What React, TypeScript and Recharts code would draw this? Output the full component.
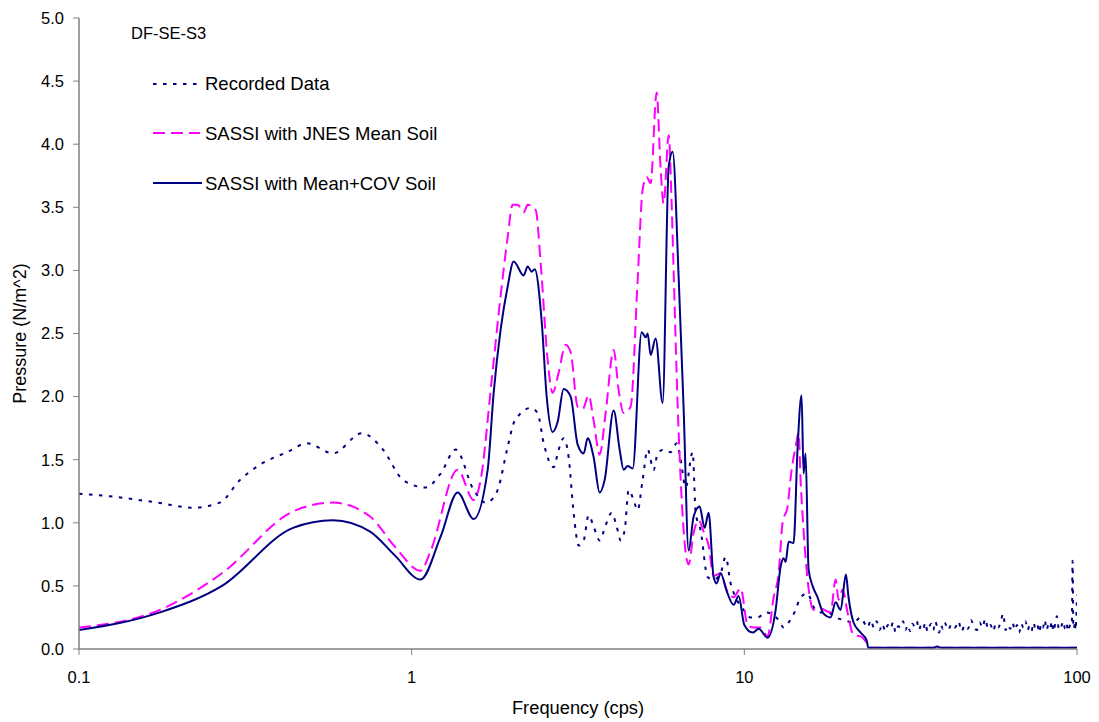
import React from 'react';
import { LineChart, Line, XAxis, YAxis } from 'recharts';

// frequency (cps), pressure (N/m^2) pairs
const recorded: [number, number][] = [
  [0.1, 1.23], [0.124, 1.21], [0.172, 1.16], [0.22, 1.12], [0.265, 1.16], [0.305, 1.34],
  [0.35, 1.46], [0.422, 1.56], [0.485, 1.63], [0.58, 1.55], [0.709, 1.71], [0.82, 1.58],
  [0.942, 1.34], [1.102, 1.28], [1.222, 1.39], [1.356, 1.58], [1.536, 1.26], [1.669, 1.16],
  [1.764, 1.2], [1.813, 1.26], [1.943, 1.6], [2.026, 1.79], [2.097, 1.85], [2.279, 1.91],
  [2.391, 1.87], [2.494, 1.63], [2.672, 1.44], [2.766, 1.58], [2.863, 1.67], [2.964, 1.52],
  [3.068, 1.08], [3.177, 0.82], [3.289, 0.86], [3.404, 1.06], [3.524, 0.97], [3.674, 0.86],
  [3.829, 0.98], [3.991, 1.08], [4.133, 0.97], [4.249, 0.86], [4.368, 0.94], [4.49, 1.26],
  [4.649, 1.18], [4.778, 1.1], [4.946, 1.34], [5.121, 1.58], [5.338, 1.42], [5.488, 1.55],
  [5.721, 1.58], [6.004, 1.56], [6.259, 1.63], [6.435, 1.5], [6.662, 1.28], [6.993, 1.56],
  [7.14, 1.08], [7.389, 0.94], [7.756, 0.57], [8.084, 0.55], [8.485, 0.6], [8.786, 0.73],
  [9.095, 0.52], [9.415, 0.41], [9.952, 0.31], [10.44, 0.25], [10.96, 0.25], [11.58, 0.29],
  [12.68, 0.23], [13.13, 0.17], [13.59, 0.21], [14.26, 0.31], [14.76, 0.41], [15.49, 0.44],
  [16.16, 0.33], [16.96, 0.29], [17.8, 0.29], [18.81, 0.25], [19.89, 0.23], [21.3, 0.21],
  [22.37, 0.25], [23.48, 0.17], [24.0, 0.23],
  [24.5, 0.17], [25, 0.22], [25.5, 0.15], [26, 0.2], [26.5, 0.14], [27, 0.19], [27.5, 0.16],
  [28, 0.21], [28.5, 0.13], [29, 0.18], [29.5, 0.17], [30, 0.22], [30.5, 0.15], [31, 0.19],
  [31.5, 0.14], [32, 0.2], [32.5, 0.18], [33, 0.22], [33.5, 0.15], [34, 0.19], [34.5, 0.16],
  [35, 0.21], [35.5, 0.14], [36, 0.18], [36.5, 0.2], [37, 0.15], [37.5, 0.22], [38, 0.17],
  [38.5, 0.13], [39, 0.19], [39.5, 0.16], [40, 0.21], [41, 0.15], [42, 0.2], [43, 0.17],
  [44, 0.22], [45, 0.14], [46, 0.19], [47, 0.16], [48, 0.23], [49, 0.18], [50, 0.15],
  [51, 0.21], [52, 0.17], [53, 0.24], [54, 0.16], [55, 0.19], [56, 0.14], [57, 0.2],
  [58, 0.17], [59, 0.22], [60, 0.28], [61, 0.15], [62, 0.19], [63, 0.16], [64, 0.21],
  [65, 0.15], [66, 0.19], [67, 0.13], [68, 0.2], [69, 0.17], [70, 0.22], [71, 0.15],
  [72, 0.18], [73, 0.14], [74, 0.21], [75, 0.16], [76, 0.19], [77, 0.13], [78, 0.2],
  [79, 0.17], [80, 0.23], [81, 0.15], [82, 0.19], [83, 0.16], [84, 0.22], [85, 0.14],
  [86, 0.2], [87, 0.26], [88, 0.17], [89, 0.15], [90, 0.19], [91, 0.22], [92, 0.16],
  [93, 0.2], [94, 0.14], [95, 0.18], [96, 0.21], [96.5, 0.2], [97, 0.7], [97.5, 0.18],
  [98, 0.16], [98.5, 0.22], [99, 0.15], [99.5, 0.24], [100, 0.43],
];

const jnesMean: [number, number][] = [
  [0.1, 0.17], [0.175, 0.31], [0.269, 0.6], [0.44, 1.09], [0.58, 1.16], [0.75, 1.05],
  [0.891, 0.81], [1.064, 0.62], [1.141, 0.78], [1.375, 1.42], [1.536, 1.18], [1.612, 1.34],
  [1.74, 2.13], [1.851, 2.8], [1.943, 3.26], [2.012, 3.52], [2.083, 3.52], [2.171, 3.46],
  [2.232, 3.52], [2.359, 3.48], [2.442, 3.06], [2.563, 2.29], [2.653, 2.03], [2.766, 2.19],
  [2.903, 2.41], [3.006, 2.35], [3.155, 1.92], [3.266, 1.9], [3.404, 2.01], [3.524, 1.81],
  [3.674, 1.54], [3.829, 1.87], [4.048, 2.37], [4.19, 2.05], [4.338, 1.87], [4.551, 1.92],
  [4.778, 2.92], [4.946, 3.64], [5.086, 3.74], [5.228, 3.69], [5.45, 4.41], [5.603, 3.8],
  [5.721, 3.53], [5.923, 4.07], [6.046, 3.53], [6.13, 3.0], [6.3, 1.95], [6.801, 0.67],
  [7.041, 0.92], [7.287, 1.02], [7.544, 0.93], [7.809, 0.82], [8.084, 0.58], [8.485, 0.6],
  [8.847, 0.47], [9.286, 0.41], [9.748, 0.48], [10.23, 0.19], [10.66, 0.17], [11.19, 0.17],
  [11.75, 0.1], [12.25, 0.41], [12.68, 0.6], [13.03, 1.0], [13.49, 1.13], [13.87, 1.42],
  [14.26, 1.6], [14.56, 1.71], [14.76, 1.34], [15.07, 0.94], [15.49, 0.55], [16.16, 0.31],
  [16.96, 0.32], [18.17, 0.29], [18.81, 0.55], [19.2, 0.39], [19.74, 0.47], [20.43, 0.29],
  [21.3, 0.11], [22.37, 0.1], [23.3, 0.05], [23.8, 0.01], [40, 0.01], [100, 0.01],
];

const meanCov: [number, number][] = [
  [0.1, 0.15], [0.175, 0.29], [0.269, 0.5], [0.44, 0.96], [0.58, 1.02], [0.75, 0.93],
  [0.891, 0.74], [1.064, 0.55], [1.222, 0.89], [1.375, 1.24], [1.536, 1.03], [1.692, 1.42],
  [1.764, 2.03], [1.851, 2.53], [1.943, 2.87], [2.026, 3.07], [2.171, 2.96], [2.232, 3.03],
  [2.295, 2.99], [2.343, 3.01], [2.459, 2.6], [2.546, 2.0], [2.653, 1.72], [2.747, 1.8],
  [2.863, 2.06], [3.006, 2.0], [3.155, 1.62], [3.289, 1.55], [3.381, 1.67], [3.524, 1.52],
  [3.674, 1.24], [3.803, 1.34], [4.048, 1.89], [4.219, 1.58], [4.338, 1.42], [4.46, 1.45],
  [4.617, 1.43], [4.913, 2.51], [5.051, 2.47], [5.121, 2.5], [5.228, 2.33], [5.412, 2.46],
  [5.681, 1.95], [5.923, 3.82], [6.088, 3.94], [6.346, 2.95], [6.57, 1.9], [6.801, 0.78],
  [7.041, 1.05], [7.337, 1.13], [7.596, 0.96], [7.809, 1.08], [8.084, 0.57], [8.253, 0.52],
  [8.485, 0.6], [8.847, 0.46], [9.286, 0.35], [9.613, 0.42], [10, 0.19], [10.59, 0.13],
  [11.04, 0.16], [11.75, 0.09], [12.42, 0.31], [12.85, 0.65], [13.13, 0.72], [13.31, 0.69],
  [13.59, 0.85], [14.06, 0.84], [14.46, 1.6], [14.86, 2.01], [15.07, 1.39], [15.28, 1.55],
  [15.6, 0.63], [16.04, 0.5], [16.6, 0.41], [17.3, 0.28], [18.17, 0.25], [18.81, 0.37],
  [19.47, 0.31], [20.2, 0.59], [20.57, 0.41], [21.3, 0.21], [22.37, 0.13], [23.3, 0.07],
  [23.6, 0.01], [37, 0.01], [38, 0.02], [39, 0.01], [100, 0.01],
];

const xTicks = [0.1, 1, 10, 100];
const yTicks = [0, 0.5, 1, 1.5, 2, 2.5, 3, 3.5, 4, 4.5, 5];

const title = 'DF-SE-S3';
const seriesNames = ['Recorded Data', 'SASSI with JNES Mean Soil', 'SASSI with Mean+COV Soil'];

const toRows = (pts: [number, number][]) => pts.map(([f, v]) => ({ f, v }));

const FONT = '"Liberation Sans", Arial, sans-serif';
const NAVY = '#000080';
const PINK = '#FF00FF';
const AXIS = '#808080';

export default function App() {
  return (
    <div style={{ position: 'absolute', left: 0, top: 0, width: 1099, height: 722, background: '#fff', fontFamily: FONT }}>
      <LineChart width={1099} height={722} margin={{ top: 18, right: 22, bottom: 0, left: 0 }}>
        <XAxis
          dataKey="f"
          type="number"
          scale="log"
          domain={[0.1, 100]}
          allowDataOverflow
          ticks={xTicks}
          tickFormatter={(v: number) => String(v)}
          height={73}
          axisLine={{ stroke: AXIS, strokeWidth: 1.5 }}
          tickLine={{ stroke: AXIS }}
          tickSize={6}
          tickMargin={16}
          tick={{ fill: '#000', fontSize: 16.5, fontFamily: FONT }}
          label={{
            content: () => (
              <text x={578} y={714} textAnchor="middle" fontSize={18.3} fontFamily={FONT} fill="#000">
                Frequency (cps)
              </text>
            ),
          }}
        />
        <YAxis
          type="number"
          domain={[0, 5]}
          ticks={yTicks}
          allowDataOverflow
          width={79}
          tickFormatter={(v: number) => v.toFixed(1)}
          axisLine={{ stroke: AXIS, strokeWidth: 1.5 }}
          tickLine={{ stroke: AXIS }}
          tickSize={6}
          tickMargin={9}
          tick={{ fill: '#000', fontSize: 16.5, fontFamily: FONT }}
          label={{
            content: () => (
              <text x={26} y={333.5} transform="rotate(-90 26 333.5)" textAnchor="middle" fontSize={18} fontFamily={FONT} fill="#000">
                Pressure (N/m^2)
              </text>
            ),
          }}
        />
        <Line data={toRows(recorded)} dataKey="v" type="monotone" stroke={NAVY} strokeWidth={2}
          strokeDasharray="3.5 6.5" dot={false} activeDot={false} isAnimationActive={false} />
        <Line data={toRows(jnesMean)} dataKey="v" type="monotone" stroke={PINK} strokeWidth={2}
          strokeDasharray="12 6" dot={false} activeDot={false} isAnimationActive={false} />
        <Line data={toRows(meanCov)} dataKey="v" type="monotone" stroke={NAVY} strokeWidth={2}
          dot={false} activeDot={false} isAnimationActive={false} />
      </LineChart>
      <svg width={500} height={210} style={{ position: 'absolute', left: 0, top: 0, pointerEvents: 'none' }}>
        <text x={131} y={39} fontSize={16.5} fontFamily={FONT} fill="#000">{title}</text>
        <line x1={153} y1={84} x2={198} y2={84} stroke={NAVY} strokeWidth={2} strokeDasharray="3.5 6.5" />
        <text x={205} y={90} fontSize={18.5} fontFamily={FONT} fill="#000">{seriesNames[0]}</text>
        <line x1={153} y1={133} x2={200} y2={133} stroke={PINK} strokeWidth={2} strokeDasharray="12 6" />
        <text x={205} y={140} fontSize={18.5} fontFamily={FONT} fill="#000">{seriesNames[1]}</text>
        <line x1={153} y1={183} x2={202} y2={183} stroke={NAVY} strokeWidth={2} />
        <text x={205} y={190} fontSize={18.5} fontFamily={FONT} fill="#000">{seriesNames[2]}</text>
      </svg>
    </div>
  );
}
